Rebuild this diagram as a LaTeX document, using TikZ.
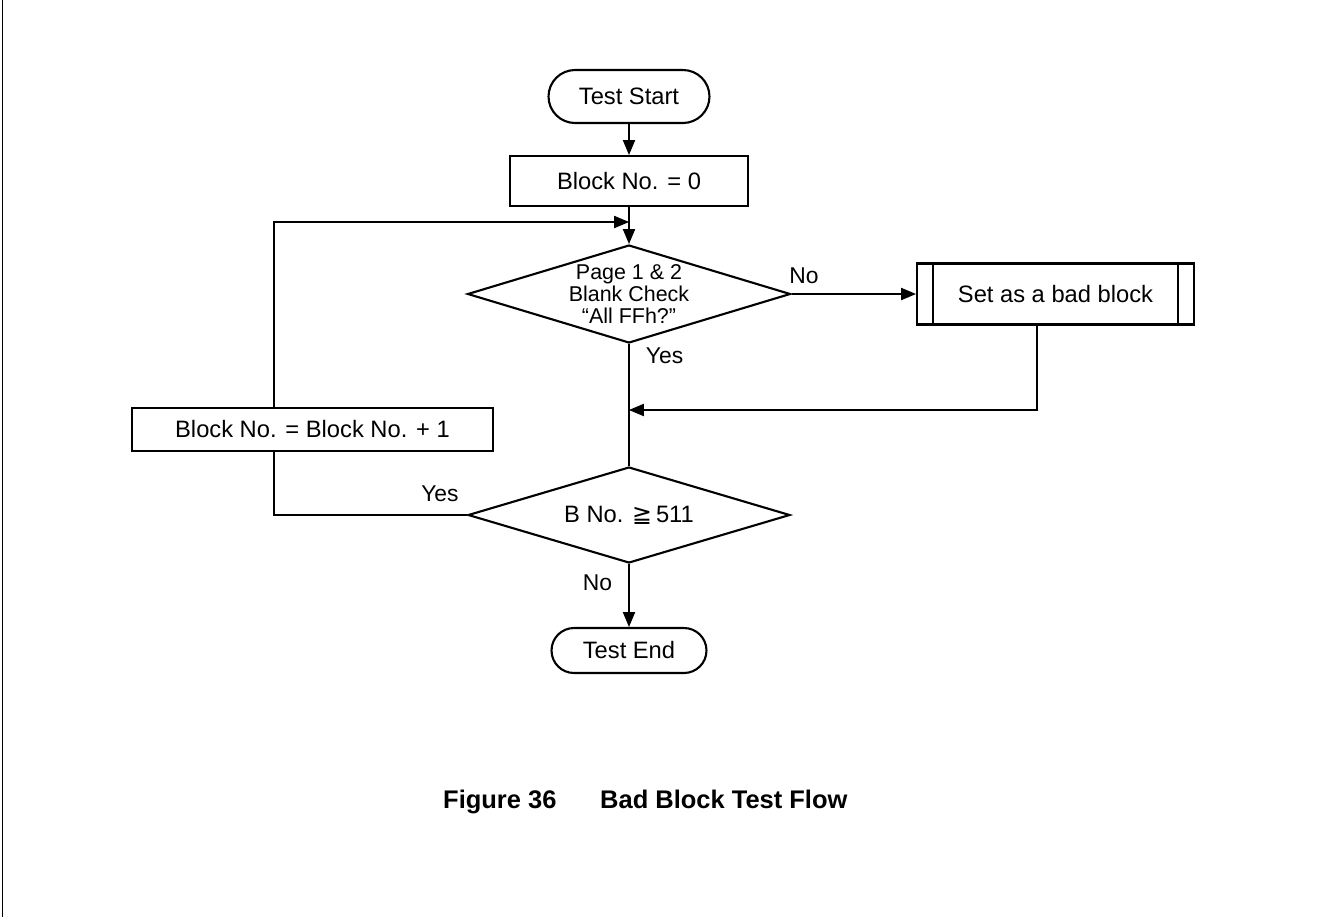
\documentclass[tikz,border=0pt]{standalone}
\usepackage{fontspec}
\setmainfont{Liberation Sans}
\newfontfamily\dejavu{DejaVu Sans}
\usetikzlibrary{shapes.geometric,arrows.meta}

\begin{document}
\begin{tikzpicture}[x=.02cm,y=-.02cm,
      boxtext/.style={font=\fontsize{13.5}{15}\selectfont},
      terminal/.style={boxtext, draw, line width=1.2pt, rounded corners=#1,
        inner sep=0pt},
      process/.style={boxtext, draw, line width=1.2pt, inner sep=0pt},
      decision/.style={diamond, draw, line width=1.2pt, inner sep=0pt},
      decisiontext/.style={font=\fontsize{12.2}{12.6}\selectfont, align=center},
      answer/.style={font=\fontsize{13}{14}\selectfont},
      caption/.style={font=\fontsize{14.5}{16}\selectfont\bfseries,
        anchor=base west},
      flow/.style={line width=.6pt, -{Triangle[length=8.5pt,width=7pt]}},
      link/.style={line width=.6pt}]
      \useasboundingbox (0,0) rectangle (1320,917);
      \draw[line width=.8pt] (2.5,0) -- (2.5,917);

      % Main column of the flow.
      \node[terminal=.53cm, minimum width=3.22cm, minimum height=1.06cm]
        (start) at (629,96.5) {Test Start};
      \node[process, minimum width=4.76cm, minimum height=1cm]
        (init) at (629,181) {Block No. = 0};
      \node[decision, minimum width=6.46cm, minimum height=1.96cm]
        (check) at (629,294) {};
      \node[decisiontext] (checktext) at (check.center)
        {Page 1 \& 2\\Blank Check\\“All FFh?”};
      \node[process, minimum width=5.54cm, minimum height=1.22cm]
        (bad) at (1055.5,294) {Set as a bad block};
      \draw[line width=1.2pt] ([xshift=.34cm]bad.north west) --
        ([xshift=.34cm]bad.south west);
      \draw[line width=1.2pt] ([xshift=-.34cm]bad.north east) --
        ([xshift=-.34cm]bad.south east);
      \node[decision, minimum width=6.44cm, minimum height=1.92cm]
        (limit) at (629,515) {};
      \node[boxtext] (limittext) at (limit.center)
        {B No. {\dejavu ≧}\,511};
      \node[process, minimum width=7.22cm, minimum height=.86cm]
        (incr) at (312.5,429.5) {Block No. = Block No. + 1};
      \node[terminal=.45cm, minimum width=3.1cm, minimum height=.9cm]
        (finish) at (629,650.5) {Test End};

      \coordinate (merge) at (629,410);
      \coordinate (loopin) at (629,222);

      % Connectors.
      \draw[flow] (start) -- (init);
      \draw[flow] (init) -- (check);
      \draw[flow] (check) -- (bad) node[answer, pos=.1, above, yshift=2pt] {No};
      \draw[link] (check.south) -- (limit.north)
        node[answer, pos=.1, right, xshift=6pt] {Yes};
      \draw[flow] ([xshift=-.37cm]bad.south) |- (merge);
      \draw[flow] (limit.south) -- (finish.north)
        node[answer, pos=.3, left, xshift=-6pt] {No};
      \draw[link] (limit.west) -| ([xshift=-.77cm]incr.south)
        node[answer, pos=.07, above, yshift=4pt] {Yes};
      \draw[flow] ([xshift=-.77cm]incr.north) |- (loopin);

      \node[caption] (fignum) at (437,808) {Figure 36};
      \node[caption] (figtitle) at (594,808) {Bad Block Test Flow};
    \end{tikzpicture}
\end{document}
